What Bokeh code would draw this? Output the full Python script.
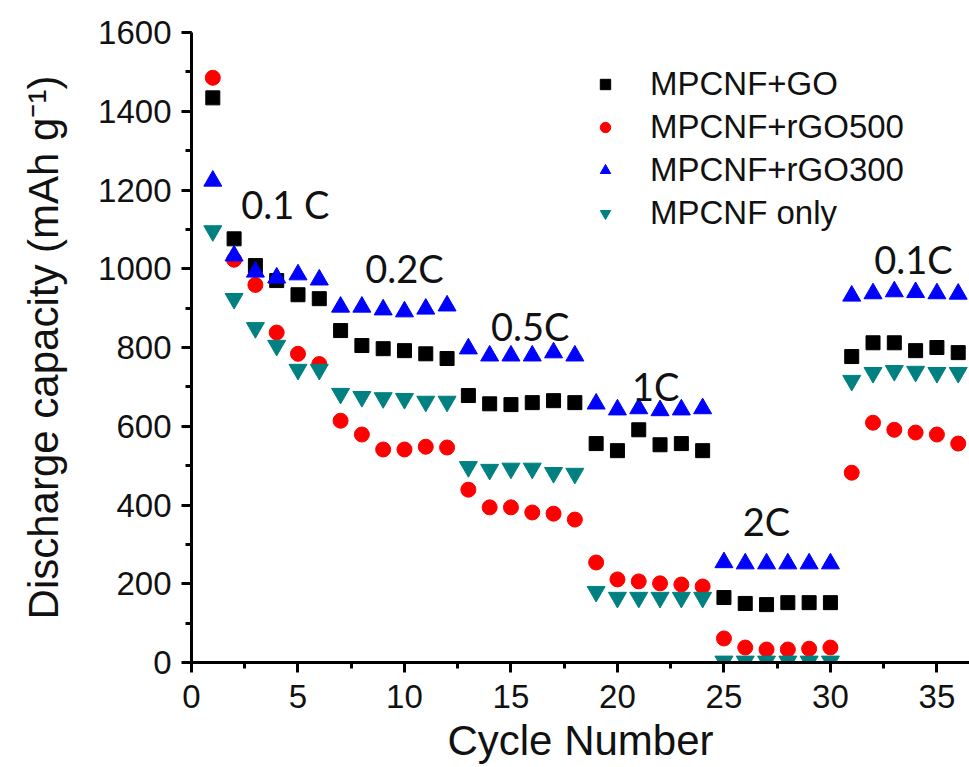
from bokeh.plotting import figure
from bokeh.models import ColumnDataSource, Range1d, SingleIntervalTicker, Legend, LegendItem
from bokeh.core.properties import value
from bokeh.embed import file_html
from bokeh.resources import INLINE

cycles = list(range(1, 37))
go = [1434, 1076, 1008, 970, 934, 924, 843, 805, 797, 792, 784, 772,
      678, 657, 655, 660, 665, 660, 556, 538, 591, 553, 556, 538,
      165, 150, 147, 152, 152, 152, 777, 812, 812, 792, 800, 787]
rgo500 = [1485, 1023, 959, 838, 784, 758, 614, 579, 541, 541, 548, 546,
          439, 394, 394, 381, 378, 363, 254, 211, 206, 201, 198, 193,
          61, 38, 33, 33, 35, 38, 482, 609, 591, 584, 579, 556]
rgo300 = [1223, 1033, 992, 977, 985, 972, 903, 903, 896, 891, 898, 906,
          797, 779, 779, 779, 787, 779, 657, 642, 645, 640, 642, 645,
          254, 251, 251, 251, 251, 251, 931, 937, 942, 940, 937, 936]
only = [1096, 924, 850, 805, 744, 744, 683, 675, 672, 670, 663, 663,
        497, 490, 493, 493, 482, 480, 180, 165, 165, 165, 165, 165,
        3, 3, 3, 3, 3, 3, 716, 736, 741, 739, 736, 736]

series_names = ["MPCNF+GO", "MPCNF+rGO500", "MPCNF+rGO300", "MPCNF only"]
rate_labels = ["0.1 C", "0.2C", "0.5C", "1C", "2C", "0.1C"]
rate_x = [4.4, 10.0, 15.9, 21.8, 27.0, 33.9]
rate_y = [1165, 1003, 855, 703, 360, 1025]

W, H = 969, 767
p = figure(width=W, height=H, output_backend="svg", toolbar_location=None,
           x_range=Range1d(0, 36.53), y_range=Range1d(0, 1600),
           min_border_left=191, min_border_right=0, min_border_top=32, min_border_bottom=105)
p.outline_line_color = None
p.xgrid.visible = False
p.ygrid.visible = False
p.background_fill_color = "white"
p.border_fill_color = "white"

src = ColumnDataSource(dict(x=cycles, go=go, r5=rgo500, r3=rgo300, only=only))
r_go = p.scatter("x", "go", source=src, marker="square", size=14, color="#000000")
r_r5 = p.scatter("x", "r5", source=src, marker="circle", size=15, color="#FF0000")
r_r3 = p.scatter("x", "r3", source=src, marker="triangle", size=18, color="#0000FF")
r_on = p.scatter("x", "only", source=src, marker="inverted_triangle", size=18, color="#008080")

tsrc = ColumnDataSource(dict(x=rate_x, y=rate_y, t=rate_labels))
p.text("x", "y", text="t", source=tsrc, text_font=value("Lato"), text_font_size="38px",
       text_align="center", text_baseline="middle", text_color="#111111")

legend = Legend(items=[LegendItem(label=series_names[0], renderers=[r_go]),
                       LegendItem(label=series_names[1], renderers=[r_r5]),
                       LegendItem(label=series_names[2], renderers=[r_r3]),
                       LegendItem(label=series_names[3], renderers=[r_on])],
                location=(399, 430))
legend.border_line_color = None
legend.background_fill_alpha = 0
legend.label_text_font = "Liberation Sans"
legend.label_text_font_size = "33px"
legend.label_text_color = "#111111"
legend.label_standoff = 30
legend.glyph_width = 30
legend.glyph_height = 26
legend.label_height = 26
legend.spacing = 5
legend.padding = 0
legend.margin = 0
p.add_layout(legend)

for ax in (p.xaxis[0], p.yaxis[0]):
    ax.axis_line_width = 3
    ax.major_tick_line_width = 3
    ax.minor_tick_line_width = 3
    ax.major_tick_out = 10
    ax.major_tick_in = 0
    ax.minor_tick_out = 6
    ax.minor_tick_in = 0
    ax.major_label_text_font = "Liberation Sans"
    ax.major_label_text_font_size = "33px"
    ax.major_label_text_color = "#111111"
    ax.axis_label_text_font = "Liberation Sans"
    ax.axis_label_text_font_style = "normal"
    ax.axis_label_text_font_size = "42px"
    ax.axis_label_text_color = "#111111"

p.xaxis[0].ticker = SingleIntervalTicker(interval=5, num_minor_ticks=2)
p.yaxis[0].ticker = SingleIntervalTicker(interval=200, num_minor_ticks=2)
p.xaxis[0].axis_label = "Cycle Number"
p.yaxis[0].axis_label = "Discharge capacity (mAh g\u207b\u00b9)"
p.xaxis[0].major_label_standoff = 12
p.yaxis[0].major_label_standoff = 10
p.xaxis[0].axis_label_standoff = 6
p.yaxis[0].axis_label_standoff = 28

open("out.html", "w").write(file_html(p, INLINE))
